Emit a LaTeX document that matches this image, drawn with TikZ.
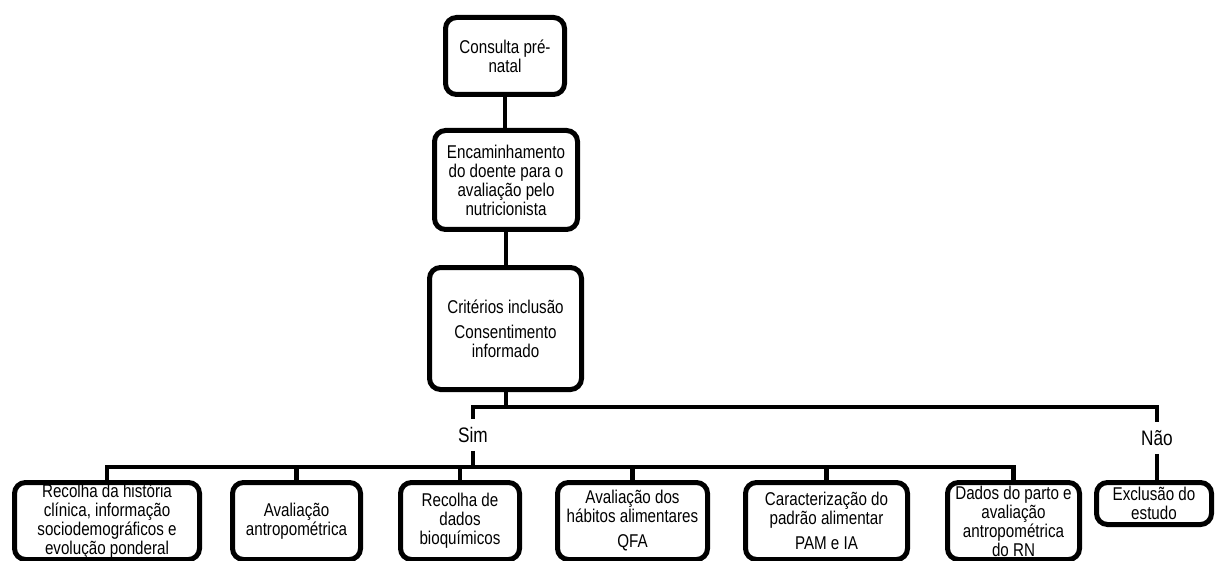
\documentclass[tikz,border=0pt]{standalone}
\usepackage{fontspec}
\setmainfont{Liberation Sans}[FakeStretch=0.82]
\usepackage{tikz}
\usetikzlibrary{positioning}

\begin{document}
\begin{tikzpicture}[x=1pt, y=-1pt,
  box/.style={draw, line width=5pt, rounded corners=11pt, align=center, inner sep=1pt,
    font=\fontsize{18.5}{19}\selectfont},
  link/.style={line width=4.8pt},
  answer/.style={inner xsep=2pt, inner ysep=8pt, font=\fontsize{21}{22}\selectfont}]
\useasboundingbox (0,0) rectangle (1217,561);
\clip (0,0) rectangle (1217,561);
\node[box, minimum width=119pt, minimum height=77pt] (cons) at (505,56) {Consulta pré-\\natal};
\node[box, minimum width=143pt, minimum height=99pt] (enc) at (506,180) {Encaminhamento\\do doente para o\\avaliação pelo\\nutricionista};
\node[box, minimum width=152pt, minimum height=122pt] (crit) at (505.5,328.5) {Critérios inclusão\\[6pt]Consentimento\\informado};
\node[answer] (sim) at (473,435) {Sim};
\node[answer] (nao) at (1157,438) {Não};
\node[box, minimum width=185pt, minimum height=77pt] (hist) at (107,521) {Recolha da história\\clínica, informação\\sociodemográficos e\\evolução ponderal};
\node[box, minimum width=128pt, minimum height=77pt] (antro) at (296.5,521) {Avaliação\\antropométrica};
\node[box, minimum width=119pt, minimum height=77pt] (bioq) at (460,521) {Recolha de\\dados\\bioquímicos};
\node[box, minimum width=150pt, minimum height=77pt] (habit) at (632.5,521) {Avaliação dos\\hábitos alimentares\\[6pt]QFA};
\node[box, minimum width=162pt, minimum height=77pt] (padrao) at (826.5,521) {Caracterização do\\padrão alimentar\\[6pt]PAM e IA};
\node[box, minimum width=132pt, minimum height=77pt] (parto) at (1013.5,521) {Dados do parto e\\avaliação\\antropométrica\\do RN};
\node[box, minimum width=115pt, minimum height=42pt] (excl) at (1154,503.5) {Exclusão do\\estudo};
\coordinate (split) at (506,407);
\coordinate (bus) at (0,467);
\draw[link] (cons) -- (cons |- enc.north);
\draw[link] (enc) -- (enc |- crit.north);
\draw[link] (crit.south -| split) -- (split);
\draw[link] (split) -| (sim.north);
\draw[link] (split) -| (nao.north);
\draw[link] (sim.south) -- (sim.south |- bus);
\draw[link] (hist.north) -- (hist.north |- bus) -- (parto.north |- bus) -- (parto.north);
\foreach \b in {antro, bioq, habit, padrao}
  \draw[link] (\b.north) -- (\b.north |- bus);
\draw[link] (nao.south) -- (nao.south |- excl.north);
\end{tikzpicture}
\end{document}
